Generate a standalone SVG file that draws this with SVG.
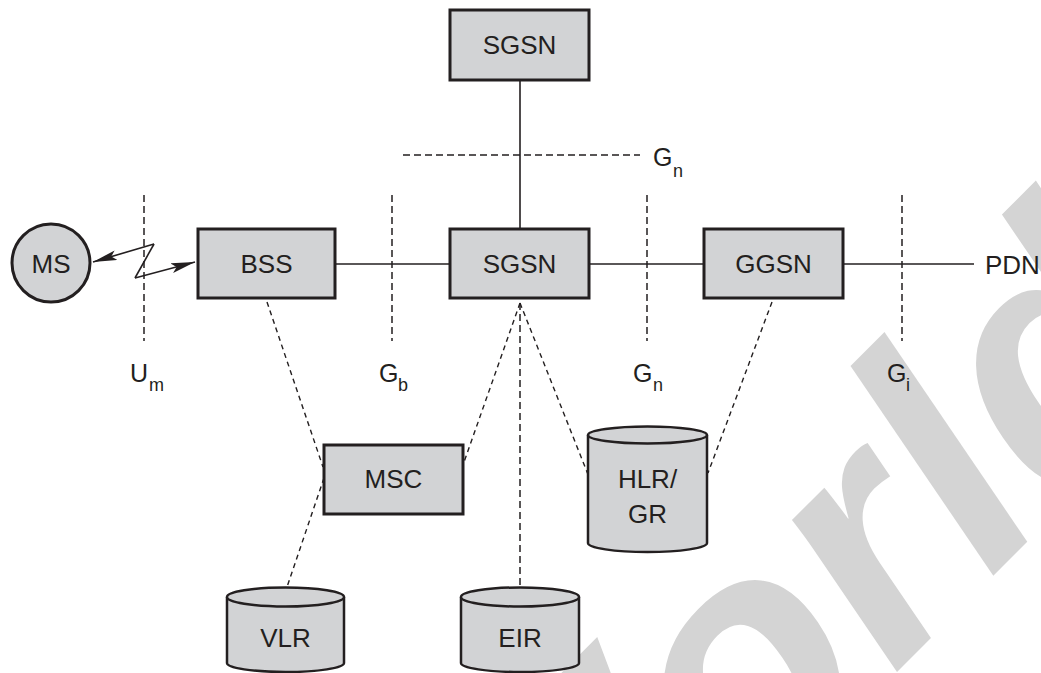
<svg xmlns="http://www.w3.org/2000/svg" width="1041" height="673" viewBox="0 0 1041 673">
<style>
.box{fill:#d2d3d5;stroke:#231f20;stroke-width:3}
.cyl{fill:#d2d3d5;stroke:#231f20;stroke-width:2.5}
.t{font-family:"Liberation Sans",Arial,sans-serif;font-size:26px;fill:#231f20;text-anchor:middle}
.lab{font-family:"Liberation Sans",Arial,sans-serif;font-size:25px;fill:#231f20}
.sub{font-size:18px}
.solid{stroke:#231f20;stroke-width:1.6;fill:none}
.dv{stroke:#231f20;stroke-width:1.5;stroke-dasharray:7 4;fill:none}
.df{stroke:#231f20;stroke-width:1.4;stroke-dasharray:5 4;fill:none}
.wm{font-family:"Liberation Sans",Arial,sans-serif;font-weight:bold;font-size:350px;fill:#d4d4d4}
</style>
<defs>
<marker id="ah" viewBox="0 0 24 10" refX="24" refY="5" markerWidth="24" markerHeight="10" markerUnits="userSpaceOnUse" orient="auto">
<path d="M0,0 L24,5 L0,10 L5,5 Z" fill="#231f20"/>
</marker>
</defs>
<rect width="1041" height="673" fill="#ffffff"/>
<text class="wm" x="0" y="0" transform="matrix(0.707 -0.707 0.563 0.827 499.5 1069.5)">World</text>

<g id="connectors">
<line class="solid" x1="520" y1="80" x2="520" y2="229"/>
<line class="solid" x1="335" y1="264" x2="450" y2="264"/>
<line class="solid" x1="589" y1="264" x2="704" y2="264"/>
<line class="solid" x1="843" y1="264" x2="974" y2="264"/>
<polyline class="solid" points="154,244 135,278" />
<line class="solid" x1="154" y1="244" x2="93" y2="262" marker-end="url(#ah)"/>
<line class="solid" x1="135" y1="278" x2="195" y2="262" marker-end="url(#ah)"/>
<line class="dv" x1="403" y1="155" x2="640" y2="155"/>
<line class="dv" x1="144" y1="195" x2="144" y2="341"/>
<line class="dv" x1="392" y1="195" x2="392" y2="341"/>
<line class="dv" x1="647" y1="195" x2="647" y2="341"/>
<line class="dv" x1="902" y1="195" x2="902" y2="341"/>
<line class="df" x1="267" y1="302" x2="323" y2="467"/>
<line class="df" x1="324" y1="478" x2="287" y2="587"/>
<line class="df" x1="520" y1="303" x2="463" y2="465"/>
<line class="dv" x1="520" y1="303" x2="520" y2="587"/>
<line class="df" x1="520" y1="303" x2="589" y2="477"/>
<line class="df" x1="772" y1="302" x2="708" y2="473"/>
</g>

<g id="labels">
<text class="lab" x="130" y="382">U<tspan class="sub" x="149" y="391">m</tspan></text>
<text class="lab" x="379" y="382">G<tspan class="sub" x="398" y="391">b</tspan></text>
<text class="lab" x="633" y="382">G<tspan class="sub" x="653" y="391">n</tspan></text>
<text class="lab" x="887" y="382">G<tspan class="sub" x="906" y="391">i</tspan></text>
<text class="lab" x="653" y="166">G<tspan class="sub" x="673" y="177">n</tspan></text>
<text class="lab" x="985" y="274" style="font-size:26px">PDN</text>
</g>

<g id="sgsn-top"><rect class="box" x="450" y="10" width="139" height="70"/><text class="t" x="519.5" y="54">SGSN</text></g>
<g id="ms"><circle class="box" cx="51" cy="263" r="39" stroke-width="2.5"/><text class="t" x="51" y="273">MS</text></g>
<g id="bss"><rect class="box" x="198" y="229" width="137" height="69"/><text class="t" x="266.5" y="273">BSS</text></g>
<g id="sgsn"><rect class="box" x="450" y="229" width="139" height="69"/><text class="t" x="519.5" y="273">SGSN</text></g>
<g id="ggsn"><rect class="box" x="704" y="229" width="139" height="69"/><text class="t" x="773.5" y="273">GGSN</text></g>
<g id="msc"><rect class="box" x="324" y="445" width="139" height="69"/><text class="t" x="393.5" y="488">MSC</text></g>
<g id="hlr">
<path class="cyl" d="M588,435 L588,543 A59.5,9 0 0 0 707,543 L707,435 A59.5,8.5 0 0 0 588,435 Z"/>
<path class="cyl" d="M588,435 A59.5,8.5 0 0 0 707,435" fill="none"/>
<text class="t" x="647.5" y="488">HLR/</text><text class="t" x="647.5" y="523">GR</text>
</g>
<g id="vlr">
<path class="cyl" d="M227,597 L227,663 A58.5,9 0 0 0 344,663 L344,597 A58.5,9.5 0 0 0 227,597 Z"/>
<path class="cyl" d="M227,597 A58.5,9.5 0 0 0 344,597" fill="none"/>
<text class="t" x="285.5" y="647">VLR</text>
</g>
<g id="eir">
<path class="cyl" d="M461,597 L461,663 A59,9 0 0 0 579,663 L579,597 A59,9.5 0 0 0 461,597 Z"/>
<path class="cyl" d="M461,597 A59,9.5 0 0 0 579,597" fill="none"/>
<text class="t" x="520" y="647">EIR</text>
</g>
</svg>
